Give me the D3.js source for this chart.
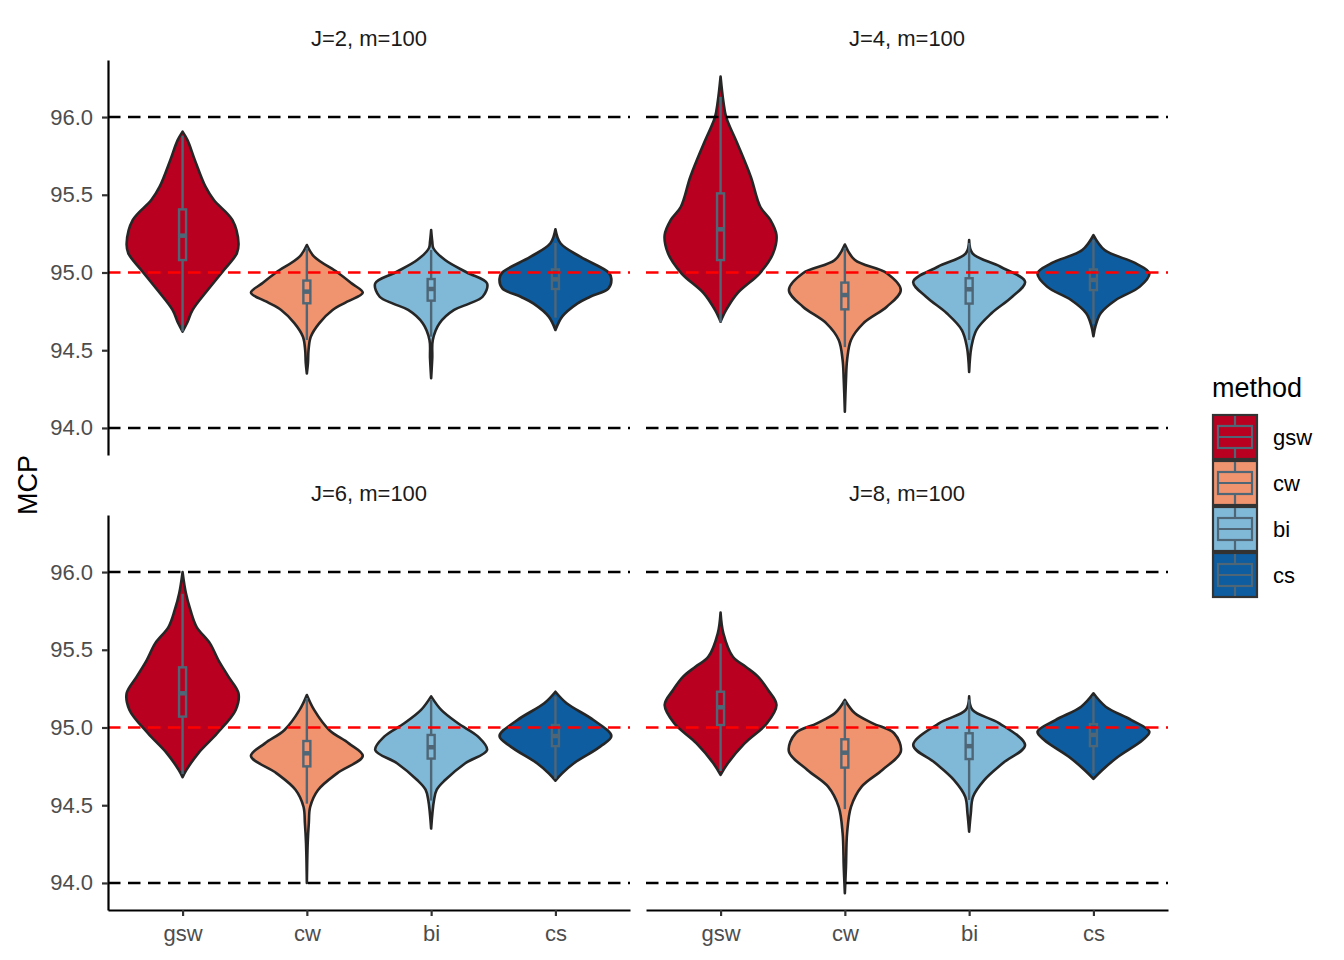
<!DOCTYPE html>
<html>
<head>
<meta charset="utf-8">
<script src="https://cdn.jsdelivr.net/npm/d3@7"></script>
<style>
  body { margin: 0; background: #fff; }
  text { font-family: "Liberation Sans", Arial, Helvetica, sans-serif; }
</style>
</head>
<body>
<svg id="chart"></svg>
<script>
// ---- data ----
var panelTitles = ["J=2, m=100", "J=4, m=100", "J=6, m=100", "J=8, m=100"];
var methods = ["gsw", "cw", "bi", "cs"];
var methodColors = ["#BA0020", "#F09470", "#80B9D8", "#0D5DA0"];
var yTicks = [94.0, 94.5, 95.0, 95.5, 96.0];
var blackLines = [94, 96];
var redLines = [95];

// violin outlines: [MCP, relative half-width], one list per method
var violinJ2 = [
  [[95.906,0],[95.85,0.09],[95.723,0.22],[95.552,0.41],[95.466,0.56],[95.338,0.89],[95.188,1.0],[95.123,0.97],[95.016,0.74],[94.887,0.45],[94.759,0.18],[94.675,0.08],[94.62,0]],
  [[95.177,0],[95.102,0.13],[95.0,0.55],[94.93,0.8],[94.87,1.0],[94.812,0.72],[94.759,0.46],[94.673,0.22],[94.587,0.07],[94.5,0.03],[94.42,0.02],[94.35,0]],
  [[95.273,0],[95.2,0.02],[95.156,0.04],[95.08,0.25],[95.0,0.64],[94.93,1.0],[94.844,0.92],[94.8,0.68],[94.759,0.41],[94.673,0.15],[94.566,0.03],[94.45,0.02],[94.32,0]],
  [[95.278,0],[95.188,0.09],[95.10,0.45],[95.0,0.95],[94.96,1.0],[94.898,0.95],[94.844,0.62],[94.80,0.39],[94.716,0.12],[94.63,0]]
];
var violinJ4 = [
  [[96.26,0],[96.1,0.05],[96.0,0.1],[95.83,0.3],[95.616,0.54],[95.423,0.71],[95.338,0.89],[95.24,1.0],[95.123,0.94],[94.995,0.7],[94.866,0.3],[94.759,0.1],[94.684,0]],
  [[95.18,0],[95.08,0.18],[94.995,0.75],[94.887,1.0],[94.78,0.75],[94.673,0.33],[94.566,0.11],[94.437,0.04],[94.309,0.02],[94.105,0]],
  [[95.209,0],[95.123,0.06],[95.037,0.56],[94.94,1.0],[94.844,0.77],[94.738,0.4],[94.63,0.13],[94.52,0.04],[94.36,0]],
  [[95.241,0],[95.145,0.2],[95.06,0.75],[94.995,1.0],[94.909,0.83],[94.823,0.4],[94.738,0.13],[94.66,0.04],[94.59,0]]
];
var violinJ6 = [
  [[96.0,0],[95.863,0.06],[95.756,0.14],[95.648,0.25],[95.541,0.49],[95.434,0.64],[95.327,0.82],[95.22,1.0],[95.113,0.95],[94.963,0.62],[94.834,0.28],[94.727,0.07],[94.68,0]],
  [[95.209,0],[95.113,0.13],[94.984,0.4],[94.898,0.75],[94.817,1.0],[94.705,0.54],[94.598,0.2],[94.49,0.06],[94.384,0.035],[94.256,0.015],[94.0,0]],
  [[95.2,0],[95.113,0.18],[95.027,0.48],[94.941,0.84],[94.855,1.0],[94.77,0.61],[94.662,0.25],[94.6,0.1],[94.53,0.05],[94.35,0]],
  [[95.23,0],[95.156,0.2],[95.048,0.68],[94.945,1.0],[94.877,0.8],[94.77,0.33],[94.705,0.12],[94.658,0]]
];
var violinJ8 = [
  [[95.74,0],[95.606,0.05],[95.455,0.22],[95.391,0.45],[95.327,0.67],[95.241,0.85],[95.145,1.0],[95.027,0.83],[94.898,0.43],[94.77,0.13],[94.695,0]],
  [[95.177,0],[95.091,0.18],[95.027,0.5],[94.963,0.88],[94.845,1.0],[94.727,0.67],[94.62,0.3],[94.49,0.11],[94.32,0.04],[94.105,0.02],[93.934,0]],
  [[95.2,0],[95.113,0.06],[95.027,0.54],[94.887,1.0],[94.77,0.6],[94.662,0.27],[94.555,0.07],[94.448,0.03],[94.33,0]],
  [[95.22,0],[95.134,0.22],[95.048,0.68],[94.973,1.0],[94.92,0.88],[94.812,0.44],[94.727,0.16],[94.67,0]]
];

// box plots: [lower whisker, q1, median, q3, upper whisker]
var boxJ2 = [[94.62,95.08,95.237,95.406,95.88],[94.566,94.802,94.877,94.948,95.16],[94.587,94.819,94.894,94.958,95.145],[94.71,94.894,94.956,95.02,95.19]];
var boxJ4 = [[94.68,95.08,95.278,95.509,96.13],[94.52,94.763,94.855,94.935,95.16],[94.566,94.80,94.892,94.963,95.19],[94.67,94.887,94.952,95.02,95.21]];
var boxJ6 = [[94.7,95.07,95.22,95.387,95.86],[94.51,94.75,94.834,94.913,95.19],[94.53,94.80,94.873,94.952,95.18],[94.67,94.88,94.945,95.016,95.2]];
var boxJ8 = [[94.72,95.016,95.13,95.23,95.54],[94.475,94.742,94.838,94.924,95.17],[94.534,94.797,94.88,94.963,95.18],[94.706,94.88,94.952,95.022,95.2]];

var violins = [violinJ2, violinJ4, violinJ6, violinJ8];
var boxes = [boxJ2, boxJ4, boxJ6, boxJ8];

// ---- layout ----
var chartW = 1344, chartH = 960;
var panelW = 522, panelH = 395;
var marginLeft = 108, marginTop = 60, gapX = 16, gapY = 60;
var outline = "#262626", boxColor = "#4E6676";

var svg = d3.select("#chart").attr("width", chartW).attr("height", chartH);

var x = d3.scalePoint().domain(methods).range([0, panelW]).padding(0.6);
var y = d3.scaleLinear().domain([93.826, 96.367]).range([panelH, 0]);
var w = d3.scaleLinear().domain([0, 1]).range([0, 0.45 * x.step()]);
var color = d3.scaleOrdinal().domain(methods).range(methodColors);

panelTitles.forEach(function(title, p) {
  var col = p % 2, row = Math.floor(p / 2);
  var g = svg.append("g")
    .attr("transform", "translate(" + (marginLeft + col * (panelW + gapX)) + "," + (marginTop + row * (panelH + gapY)) + ")");

  // strip label
  g.append("text")
    .attr("x", panelW / 2).attr("y", -14)
    .attr("text-anchor", "middle")
    .attr("font-size", 22).attr("fill", "#1a1a1a")
    .text(title);

  // violins
  methods.forEach(function(m, i) {
    var cx = x(m);
    var area = d3.area()
      .curve(d3.curveCatmullRom.alpha(0.5))
      .y(function(d) { return y(d[0]); })
      .x0(function(d) { return cx - w(d[1]); })
      .x1(function(d) { return cx + w(d[1]); });
    g.append("path")
      .datum(violins[p][i])
      .attr("d", area)
      .attr("fill", color(m))
      .attr("stroke", outline)
      .attr("stroke-width", 2.6)
      .attr("stroke-linejoin", "round");
  });

  // boxes
  methods.forEach(function(m, i) {
    var b = boxes[p][i], cx = x(m), bw = 7;
    g.append("line").attr("x1", cx).attr("x2", cx).attr("y1", y(b[0])).attr("y2", y(b[1]))
      .attr("stroke", boxColor).attr("stroke-width", 2.4);
    g.append("line").attr("x1", cx).attr("x2", cx).attr("y1", y(b[3])).attr("y2", y(b[4]))
      .attr("stroke", boxColor).attr("stroke-width", 2.4);
    g.append("rect")
      .attr("x", cx - bw / 2).attr("width", bw)
      .attr("y", y(b[3])).attr("height", y(b[1]) - y(b[3]))
      .attr("fill", color(m)).attr("stroke", boxColor).attr("stroke-width", 2.4);
    g.append("line").attr("x1", cx - bw / 2).attr("x2", cx + bw / 2).attr("y1", y(b[2])).attr("y2", y(b[2]))
      .attr("stroke", boxColor).attr("stroke-width", 4.5);
  });

  // reference lines
  g.selectAll(".bl").data(blackLines).enter().append("line")
    .attr("x1", 0).attr("x2", panelW)
    .attr("y1", function(d) { return y(d); }).attr("y2", function(d) { return y(d); })
    .attr("stroke", "black").attr("stroke-width", 2.5).attr("stroke-dasharray", "12.5 7.5");
  g.selectAll(".rl").data(redLines).enter().append("line")
    .attr("x1", 0).attr("x2", panelW)
    .attr("y1", function(d) { return y(d); }).attr("y2", function(d) { return y(d); })
    .attr("stroke", "red").attr("stroke-width", 2.5).attr("stroke-dasharray", "12.5 7.5");

  // y axis on left column
  if (col === 0) {
    var ya = g.append("g").call(d3.axisLeft(y).tickValues(yTicks).tickFormat(d3.format(".1f"))
      .tickSize(6).tickSizeOuter(0).tickPadding(9));
    ya.select(".domain").attr("stroke", "black").attr("stroke-width", 2.2);
    ya.selectAll(".tick line").attr("stroke", "#333").attr("stroke-width", 2.2);
    ya.selectAll(".tick text").attr("font-size", 22).attr("fill", "#4d4d4d")
      .attr("font-family", "Liberation Sans, Arial, sans-serif");
  }
  // x axis on bottom row
  if (row === 1) {
    var xa = g.append("g").attr("transform", "translate(0," + panelH + ")")
      .call(d3.axisBottom(x).tickSize(6).tickPadding(9).tickSizeOuter(0));
    xa.select(".domain").attr("stroke", "black").attr("stroke-width", 2.2);
    xa.selectAll(".tick line").attr("stroke", "#333").attr("stroke-width", 2.2);
    xa.selectAll(".tick text").attr("font-size", 22).attr("fill", "#4d4d4d")
      .attr("font-family", "Liberation Sans, Arial, sans-serif");
  }
});

// y axis title
svg.append("text")
  .attr("transform", "translate(37," + (marginTop + panelH + gapY / 2) + ") rotate(-90)")
  .attr("text-anchor", "middle")
  .attr("font-size", 27)
  .text("MCP");

// ---- legend ----
var legend = svg.append("g").attr("transform", "translate(1213,0)");
legend.append("text").attr("x", -1).attr("y", 397).attr("font-size", 27).text("method");

var keyH = 44, keyW = 44, keyTop = 415;
methods.forEach(function(m, i) {
  var ky = keyTop + i * (keyH + 2);
  var k = legend.append("g").attr("transform", "translate(0," + ky + ")");
  k.append("rect").attr("width", keyW).attr("height", keyH)
    .attr("fill", color(m)).attr("stroke", "#333").attr("stroke-width", 2.2);
  k.append("line").attr("x1", keyW / 2).attr("x2", keyW / 2).attr("y1", 1).attr("y2", keyH - 1)
    .attr("stroke", boxColor).attr("stroke-width", 2.2);
  k.append("rect").attr("x", 5).attr("width", keyW - 10).attr("y", 11).attr("height", 22)
    .attr("fill", color(m)).attr("stroke", boxColor).attr("stroke-width", 2.2);
  k.append("line").attr("x1", 5).attr("x2", keyW - 5).attr("y1", 22).attr("y2", 22)
    .attr("stroke", boxColor).attr("stroke-width", 2.2);
  k.append("text").attr("x", 60).attr("y", keyH / 2).attr("dy", "0.35em")
    .attr("font-size", 22).attr("fill", "black").text(m);
});
</script>
</body>
</html>
